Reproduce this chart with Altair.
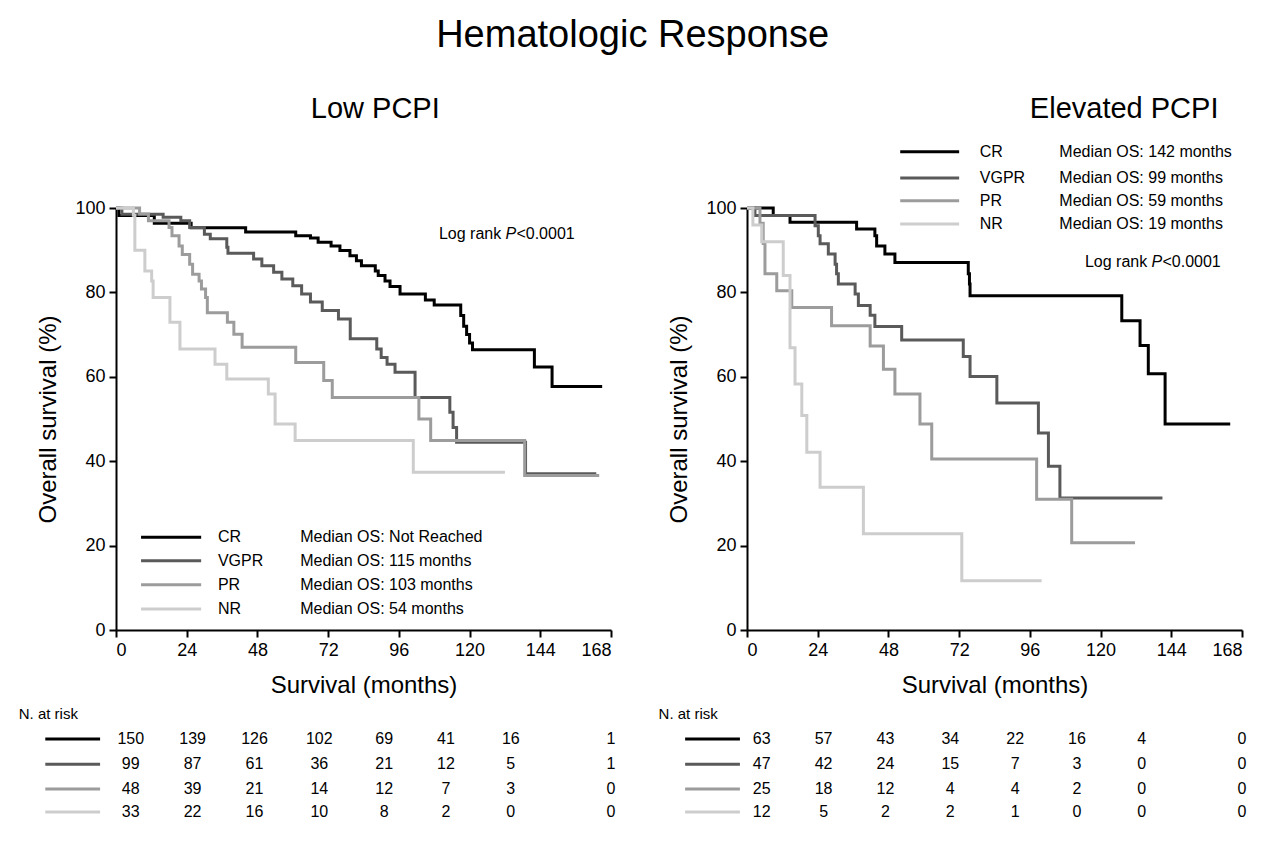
import altair as alt
import pandas as pd

groups = ["CR", "VGPR", "PR", "NR"]
colors = ["#000000", "#5a5a5a", "#9c9c9c", "#cdcdcd"]

# Kaplan-Meier steps: (month, survival %) ; last point = end of follow-up
low_cr = [(0,100),(1,98.2),(13,96.4),(25.5,95.3),(44,94.3),(61,93.4),(66,92.9),(68.6,91.9),(73,91),(76,89.9),(79.4,88.7),(81.6,87.5),(83.3,86.3),(88,85.1),(89,84),(91.3,82.7),(93,81.4),(96.4,79.6),(105,78.2),(108,77),(117,74.5),(118,72),(119,70),(120,68),(121,66.4),(142,62.3),(148,57.7),(165,57.7)]
low_vgpr = [(0,100),(2,98.5),(16,97.8),(22,97),(25,95.4),(30,93.8),(32,92.7),(37.6,90.7),(38,89.3),(46.7,87.9),(49.5,86.3),(53.5,84.8),(56.3,83.2),(60,81.6),(63,79.6),(66,77.7),(70,75.7),(75.5,73.7),(79.5,69),(88.5,66.6),(90,64.6),(92,63),(94.7,61.1),(101.5,55.1),(113.3,51.6),(114.4,48),(115.6,44.5),(139,37),(163,37)]
low_pr = [(0,100),(8,98.6),(11,97),(18,95.4),(19,93.4),(21.4,91),(22.5,89),(25,86.7),(26,84.3),(28.2,82.7),(29,80.8),(30.4,78.8),(31,75.2),(37.8,72.9),(40,70.1),(42.8,67),(61,63.4),(70.5,59.1),(73.4,55.1),(102.8,50),(106.8,44.9),(138.7,36.6),(164,36.6)]
low_nr = [(0,100),(5.9,98.3),(6.4,90),(9.8,85.1),(12.1,82.7),(12.6,78.8),(18.3,72.9),(21.7,66.6),(33.6,63),(37.6,59.5),(51.7,55.9),(54,48.8),(60.8,44.9),(100.9,37.4),(132,37.4)]

el_cr = [(0,100),(8.9,98.2),(14.6,96.6),(37.2,95),(43.4,93.4),(44,91),(46.8,89.1),(50.2,87.1),(75.1,84.4),(75.5,82),(75.7,79.2),(127.2,73.3),(133.4,67.4),(136.2,60.7),(141.9,48.8),(164,48.8)]
el_vgpr = [(0,100),(2.7,98.2),(23.1,95.8),(24.2,93.4),(24.8,91.5),(27.6,89.1),(29.9,86.7),(30.4,84.4),(31,82),(36.7,79.6),(37.8,76.9),(41.8,74.6),(43.4,71.9),(52.5,68.7),(73.4,64.8),(75.7,60.1),(84.8,53.8),(98.9,46.7),(102.3,38.8),(106.2,31.3),(141,31.3)]
el_pr = [(0,100),(4.4,96.4),(5.5,91.6),(6.1,84.4),(10.1,80.4),(15.2,76.4),(28.7,72.1),(41.8,67.3),(46.3,61.8),(50.2,55.9),(58.7,48.8),(62.7,40.5),(98.3,31),(110.2,20.7),(131.7,20.7)]
el_nr = [(0,100),(2,96),(5,92),(12.3,84),(14.6,66.9),(16.3,58.3),(18.6,50.8),(20.3,42.1),(24.8,33.8),(39.5,22.8),(72.9,11.7),(100,11.7)]

low_median = ["Median OS: Not Reached", "Median OS: 115 months", "Median OS: 103 months", "Median OS: 54 months"]
el_median = ["Median OS: 142 months", "Median OS: 99 months", "Median OS: 59 months", "Median OS: 19 months"]

low_risk = [[150,139,126,102,69,41,16,1],[99,87,61,36,21,12,5,1],[48,39,21,14,12,7,3,0],[33,22,16,10,8,2,0,0]]
el_risk = [[63,57,43,34,22,16,4,0],[47,42,24,15,7,3,0,0],[25,18,12,4,4,2,0,0],[12,5,2,2,1,0,0,0]]

FONT = "Liberation Sans"
risk_cols = [5, 26, 47, 69, 91, 112, 134, 168]
risk_rows = [-25.8, -31.8, -37.7, -43.1]

xs = alt.Scale(domain=[0, 168], nice=False)
ys = alt.Scale(domain=[0, 100], nice=False)
cscale = alt.Scale(domain=groups, range=colors)


def panel(title, curves, medians, risk, leg):
    rows = []
    for g, pts in zip(groups, curves):
        for m, s in pts:
            rows.append({"g": g, "m": m, "s": s})
    df = pd.DataFrame(rows)
    lines = alt.Chart(df).mark_line(interpolate="step-after", strokeWidth=3, clip=False).encode(
        x=alt.X("m:Q", scale=xs, axis=alt.Axis(values=list(range(0, 169, 24)), title="Survival (months)",
                                               titlePadding=14)),
        y=alt.Y("s:Q", scale=ys, axis=alt.Axis(values=list(range(0, 101, 20)), title="Overall survival (%)",
                                               titlePadding=14)),
        color=alt.Color("g:N", scale=cscale, legend=None),
        detail="g:N",
    )
    # legend
    ldf = pd.DataFrame({"g": groups, "y": leg["y"], "x0": leg["x0"], "x1": leg["x1"],
                        "lt": leg["lab"], "lm": leg["med"], "med": medians})
    lrule = alt.Chart(ldf).mark_rule(strokeWidth=3).encode(
        x=alt.X("x0:Q", scale=xs), x2="x1:Q", y=alt.Y("y:Q", scale=ys),
        color=alt.Color("g:N", scale=cscale, legend=None))
    ltxt = alt.Chart(ldf).mark_text(align="left", baseline="middle", fontSize=16, font=FONT).encode(
        x=alt.X("lt:Q", scale=xs), y=alt.Y("y:Q", scale=ys), text="g:N")
    lmed = alt.Chart(ldf).mark_text(align="left", baseline="middle", fontSize=16, font=FONT).encode(
        x=alt.X("lm:Q", scale=xs), y=alt.Y("y:Q", scale=ys), text="med:N")
    # log rank
    lr = leg["lr"]
    lrdf = pd.DataFrame({"x": [lr[0], lr[0] + 22.6, lr[0] + 26.3], "y": [lr[1]] * 3,
                         "t": ["Log rank", "P", "<0.0001"], "st": ["normal", "italic", "normal"]})
    lrt = alt.layer(*[
        alt.Chart(lrdf[lrdf.st == st]).mark_text(align="left", baseline="middle", fontSize=16, font=FONT,
                                                fontStyle=st).encode(
            x=alt.X("x:Q", scale=xs), y=alt.Y("y:Q", scale=ys), text="t:N")
        for st in ["normal", "italic"]])
    # panel title
    ttl = alt.Chart(pd.DataFrame({"x": [leg["tx"]], "y": [123.5], "t": [title]})).mark_text(
        baseline="middle", fontSize=29, font=FONT).encode(
        x=alt.X("x:Q", scale=xs), y=alt.Y("y:Q", scale=ys), text="t:N")
    # number at risk
    rrows = []
    for g, r, yy in zip(groups, risk, risk_rows):
        for c, v in zip(risk_cols, r):
            rrows.append({"g": g, "x": c, "y": yy, "v": str(v)})
    rdf = pd.DataFrame(rrows)
    rtxt = alt.Chart(rdf).mark_text(baseline="middle", fontSize=16, font=FONT).encode(
        x=alt.X("x:Q", scale=xs), y=alt.Y("y:Q", scale=ys), text="v:N")
    sdf = pd.DataFrame({"g": groups, "y": risk_rows, "x0": leg["rs0"], "x1": leg["rs1"]})
    rsw = alt.Chart(sdf).mark_rule(strokeWidth=3).encode(
        x=alt.X("x0:Q", scale=xs), x2="x1:Q", y=alt.Y("y:Q", scale=ys),
        color=alt.Color("g:N", scale=cscale, legend=None))
    nat = alt.Chart(pd.DataFrame({"x": [leg["rs0"] - 9], "y": [-20], "t": ["N. at risk"]})).mark_text(
        align="left", baseline="middle", fontSize=15, font=FONT).encode(
        x=alt.X("x:Q", scale=xs), y=alt.Y("y:Q", scale=ys), text="t:N")
    return alt.layer(lines, lrule, ltxt, lmed, lrt, ttl, rtxt, rsw, nat).properties(width=495, height=422)


left = panel("Low PCPI", [low_cr, low_vgpr, low_pr, low_nr], low_median, low_risk,
             {"y": [22, 16.4, 10.7, 5], "x0": 8.5, "x1": 28.9, "lab": 34.6, "med": 62.5,
              "lr": (109.6, 93.8), "rs0": -24, "rs1": -5.4, "tx": 88})
right = panel("Elevated PCPI", [el_cr, el_vgpr, el_pr, el_nr], el_median, el_risk,
              {"y": [113.3, 107.1, 101.7, 96.2], "x0": 52, "x1": 72, "lab": 79, "med": 106,
               "lr": (114.7, 87.2), "rs0": -21, "rs1": -2.4, "tx": 128})

chart = alt.hconcat(left, right, spacing=42).properties(
    padding={"left": 10, "top": 8, "right": 5, "bottom": 5},
    title=alt.TitleParams("Hematologic Response", fontSize=38, font=FONT, fontWeight="normal",
                          anchor="middle", offset=40)
).configure_axis(
    labelFont=FONT, titleFont=FONT, labelFontSize=18, titleFontSize=24, titleFontWeight="normal",
    labelColor="black", titleColor="black", domainColor="black", tickColor="black",
    domainWidth=2, tickWidth=2, tickSize=7, grid=False, labelPadding=4
).configure_view(stroke=None)

chart.save("out.html", embed_options={"renderer": "svg", "actions": False})
